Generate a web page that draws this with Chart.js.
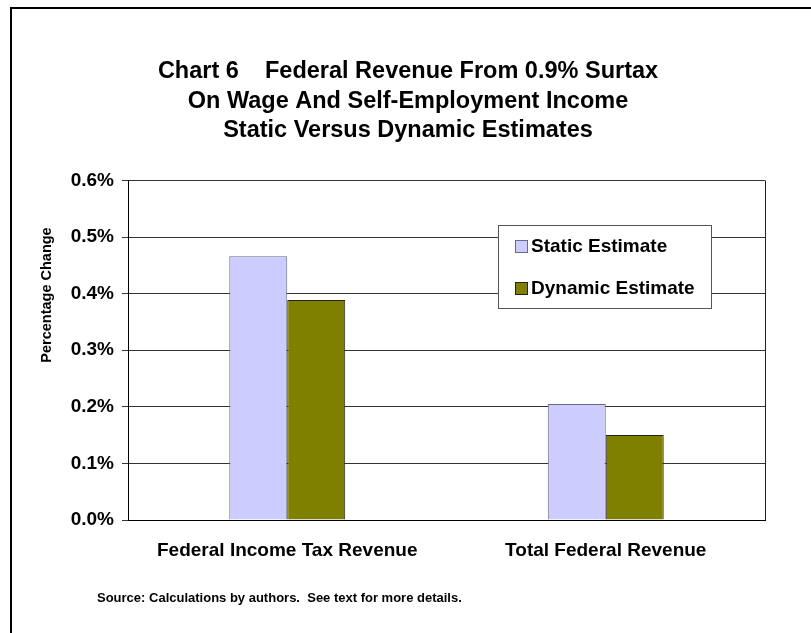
<!DOCTYPE html>
<html><head><meta charset="utf-8">
<script src="https://cdn.jsdelivr.net/npm/chart.js@4/dist/chart.umd.min.js"></script>
<style>
html,body{margin:0;padding:0;background:#fff;overflow:hidden;width:811px;height:633px}
#frame{position:absolute;left:10px;top:7px;width:900px;height:700px;border-left:2px solid #000;border-top:2px solid #000}
#wrap{position:absolute;left:0;top:0;width:811px;height:633px}
#src{position:absolute;left:97px;top:590px;font:bold 13px "Liberation Sans",Arial,sans-serif;white-space:pre;color:#000}
</style></head><body>
<div id="frame"></div>
<div id="wrap"><canvas id="c" width="811" height="633"></canvas></div>
<div id="src">Source: Calculations by authors.  See text for more details.</div>
<script>
const categories = ['Federal Income Tax Revenue', 'Total Federal Revenue'];
const seriesNames = ['Static Estimate', 'Dynamic Estimate'];
const staticEstimate = [0.466, 0.205];
const dynamicEstimate = [0.389, 0.150];
const yTickValues = [0, 0.1, 0.2, 0.3, 0.4, 0.5, 0.6];
const titleLines = ['Chart 6    Federal Revenue From 0.9% Surtax', 'On Wage And Self-Employment Income', 'Static Versus Dynamic Estimates'];
const yAxisTitle = 'Percentage Change';

const FONT = '"Liberation Sans", Arial, sans-serif';

const deco = {
  id: 'deco',
  beforeDatasetsDraw(chart) {
    const {ctx, chartArea: a} = chart;
    ctx.save();
    ctx.strokeStyle = '#222';
    ctx.lineWidth = 1;
    ctx.beginPath();
    ctx.moveTo(Math.round(a.right) + 0.5, a.top);
    ctx.lineTo(Math.round(a.right) + 0.5, a.bottom);
    ctx.stroke();
    ctx.restore();
  },
  afterDraw(chart) {
    const ctx = chart.ctx;
    ctx.save();
    ctx.translate(47, 295);
    ctx.rotate(-Math.PI / 2);
    ctx.font = 'bold 14.5px ' + FONT;
    ctx.fillStyle = '#000';
    ctx.textAlign = 'center';
    ctx.textBaseline = 'middle';
    ctx.fillText(yAxisTitle, 0, 0);
    ctx.restore();
    ctx.save();
    ctx.fillStyle = '#fff';
    ctx.fillRect(498.5, 225.5, 213, 83);
    ctx.strokeStyle = '#555';
    ctx.lineWidth = 1;
    ctx.strokeRect(498.5, 225.5, 213, 83);
    chart.data.datasets.forEach((ds, i) => {
      const cy = 247 + i * 42;
      ctx.fillStyle = ds.backgroundColor;
      ctx.fillRect(515.5, cy - 6.5, 12, 12);
      ctx.strokeStyle = ds.borderColor;
      ctx.strokeRect(515.5, cy - 6.5, 12, 12);
      ctx.fillStyle = '#000';
      ctx.font = 'bold 19px ' + FONT;
      ctx.textAlign = 'left';
      ctx.textBaseline = 'middle';
      ctx.fillText(ds.label, 531, cy);
    });
    ctx.restore();
  }
};

new Chart(document.getElementById('c'), {
  type: 'bar',
  data: {
    labels: categories,
    datasets: [
      {label: seriesNames[0], data: staticEstimate, backgroundColor: '#CCCCFF', borderColor: '#6a6a80', borderWidth: 1},
      {label: seriesNames[1], data: dynamicEstimate, backgroundColor: '#808000', borderColor: '#222222', borderWidth: 1}
    ]
  },
  options: {
    responsive: false,
    devicePixelRatio: 1,
    animation: false,
    layout: {padding: {left: 51, right: 46, top: 0, bottom: 53}},
    datasets: {bar: {barPercentage: 1, categoryPercentage: 0.364}},
    plugins: {
      legend: {display: false},
      tooltip: {enabled: false},
      title: {
        display: true,
        text: titleLines,
        color: '#000',
        font: {family: FONT, size: 23.5, weight: 'bold', lineHeight: 1.255},
        padding: {top: 57, bottom: 35}
      }
    },
    scales: {
      x: {
        grid: {display: false, drawTicks: false},
        border: {display: true, color: '#000', width: 1},
        ticks: {color: '#000', font: {family: FONT, size: 19, weight: 'bold'}, padding: 19, maxRotation: 0},
        afterFit(s) { s.height = 60; }
      },
      y: {
        min: 0, max: 0.6,
        afterBuildTicks(s) { s.ticks = yTickValues.map(v => ({value: v})); },
        grid: {color: '#333', lineWidth: 1, tickLength: 6, drawTicks: true},
        border: {display: true, color: '#000', width: 1},
        ticks: {
          color: '#000', padding: 8,
          font: {family: FONT, size: 19, weight: 'bold'},
          callback: v => v.toFixed(1) + '%'
        },
        afterFit(s) { s.width = 77; }
      }
    }
  },
  plugins: [deco]
});
</script>
</body></html>
